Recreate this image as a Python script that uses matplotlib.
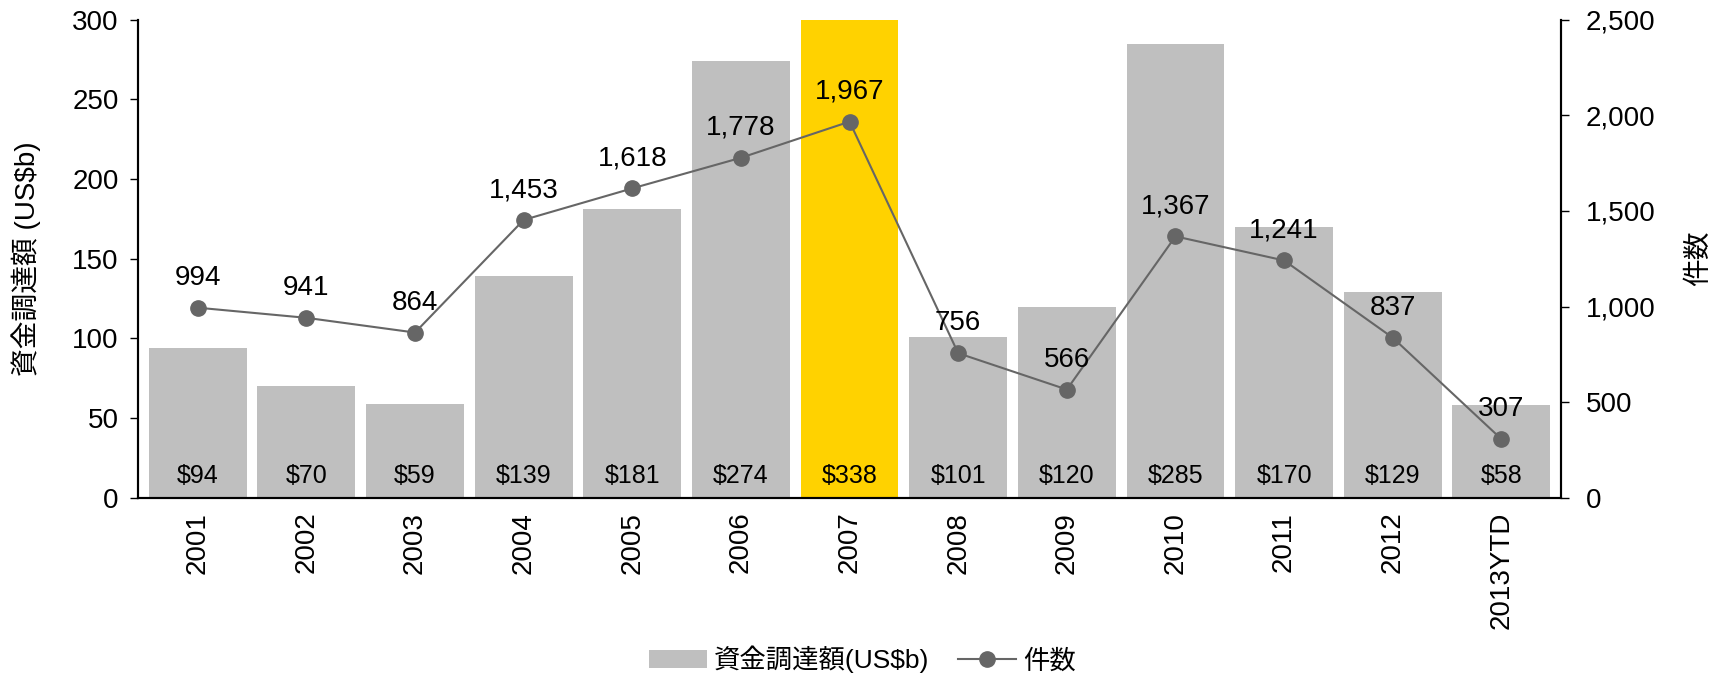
import matplotlib
matplotlib.use("Agg")
import matplotlib.pyplot as plt
from matplotlib.patches import Patch
from matplotlib.lines import Line2D
import numpy as np

plt.rcParams['font.family'] = ['Liberation Sans', 'Noto Sans CJK JP', 'DejaVu Sans']

categories = ["2001", "2002", "2003", "2004", "2005", "2006", "2007",
              "2008", "2009", "2010", "2011", "2012", "2013YTD"]
amounts = [94, 70, 59, 139, 181, 274, 338, 101, 120, 285, 170, 129, 58]
counts = [994, 941, 864, 1453, 1618, 1778, 1967, 756, 566, 1367, 1241, 837, 307]
highlight = "2007"

bar_gray = "#bfbfbf"
bar_yellow = "#ffd200"
line_color = "#666666"

fig = plt.figure(figsize=(17.25, 6.8), dpi=100)
ax = fig.add_axes([0.080, 0.268, 0.825, 0.703])
ax2 = ax.twinx()

x = np.arange(len(categories))
colors = [bar_yellow if c == highlight else bar_gray for c in categories]
ax.bar(x, amounts, width=0.9, color=colors, zorder=1)
ax.set_xlim(-0.55, len(categories) - 0.45)
ax.set_ylim(0, 300)
ax.set_yticks(np.arange(0, 301, 50))
ax.set_xticks(x)
ax.set_xticklabels(categories, rotation=90, fontsize=20)
ax.tick_params(axis='x', length=0, pad=10)
ax.tick_params(axis='y', labelsize=20, length=6, width=1, direction='out', pad=8)
ax.set_ylabel("資金調達額 (US$b)", fontsize=20, labelpad=22)

for xi, v in zip(x, amounts):
    ax.annotate(f"${v}", (xi, 0), xytext=(0, 16), textcoords='offset points',
                ha='center', va='center', fontsize=18, color='black', zorder=5)

ax2.plot(x, counts, color=line_color, lw=1.5, marker='o', markersize=11,
         markerfacecolor=line_color, markeredgecolor=line_color, zorder=3)
ax2.set_ylim(0, 2500)
ax2.set_yticks(np.arange(0, 2501, 500))
ax2.set_yticklabels([f"{t:,}" for t in range(0, 2501, 500)])
ax2.tick_params(axis='y', labelsize=20, length=6, width=1, direction='out', pad=12)
ax2.set_ylabel("件数", fontsize=20, labelpad=22, rotation=90)

for xi, v in zip(x, counts):
    ax2.annotate(f"{v:,}", (xi, v), xytext=(0, 21.5), textcoords='offset points',
                 ha='center', va='center', fontsize=20, color='black')

for a in (ax, ax2):
    a.spines['top'].set_visible(False)
    for s in ('left', 'right', 'bottom'):
        a.spines[s].set_linewidth(1.5)
        a.spines[s].set_color('black')

handles = [Patch(facecolor=bar_gray, edgecolor='none'),
           Line2D([0], [0], color=line_color, lw=1.5, marker='o', markersize=11,
                  markerfacecolor=line_color)]
fig.legend(handles, ["資金調達額(US$b)", "件数"], loc='center', bbox_to_anchor=(0.5, 0.03),
           ncol=2, frameon=False, fontsize=19, handlelength=2.2, columnspacing=1.1,
           handletextpad=0.25)

fig.savefig("out.png", dpi=100)
